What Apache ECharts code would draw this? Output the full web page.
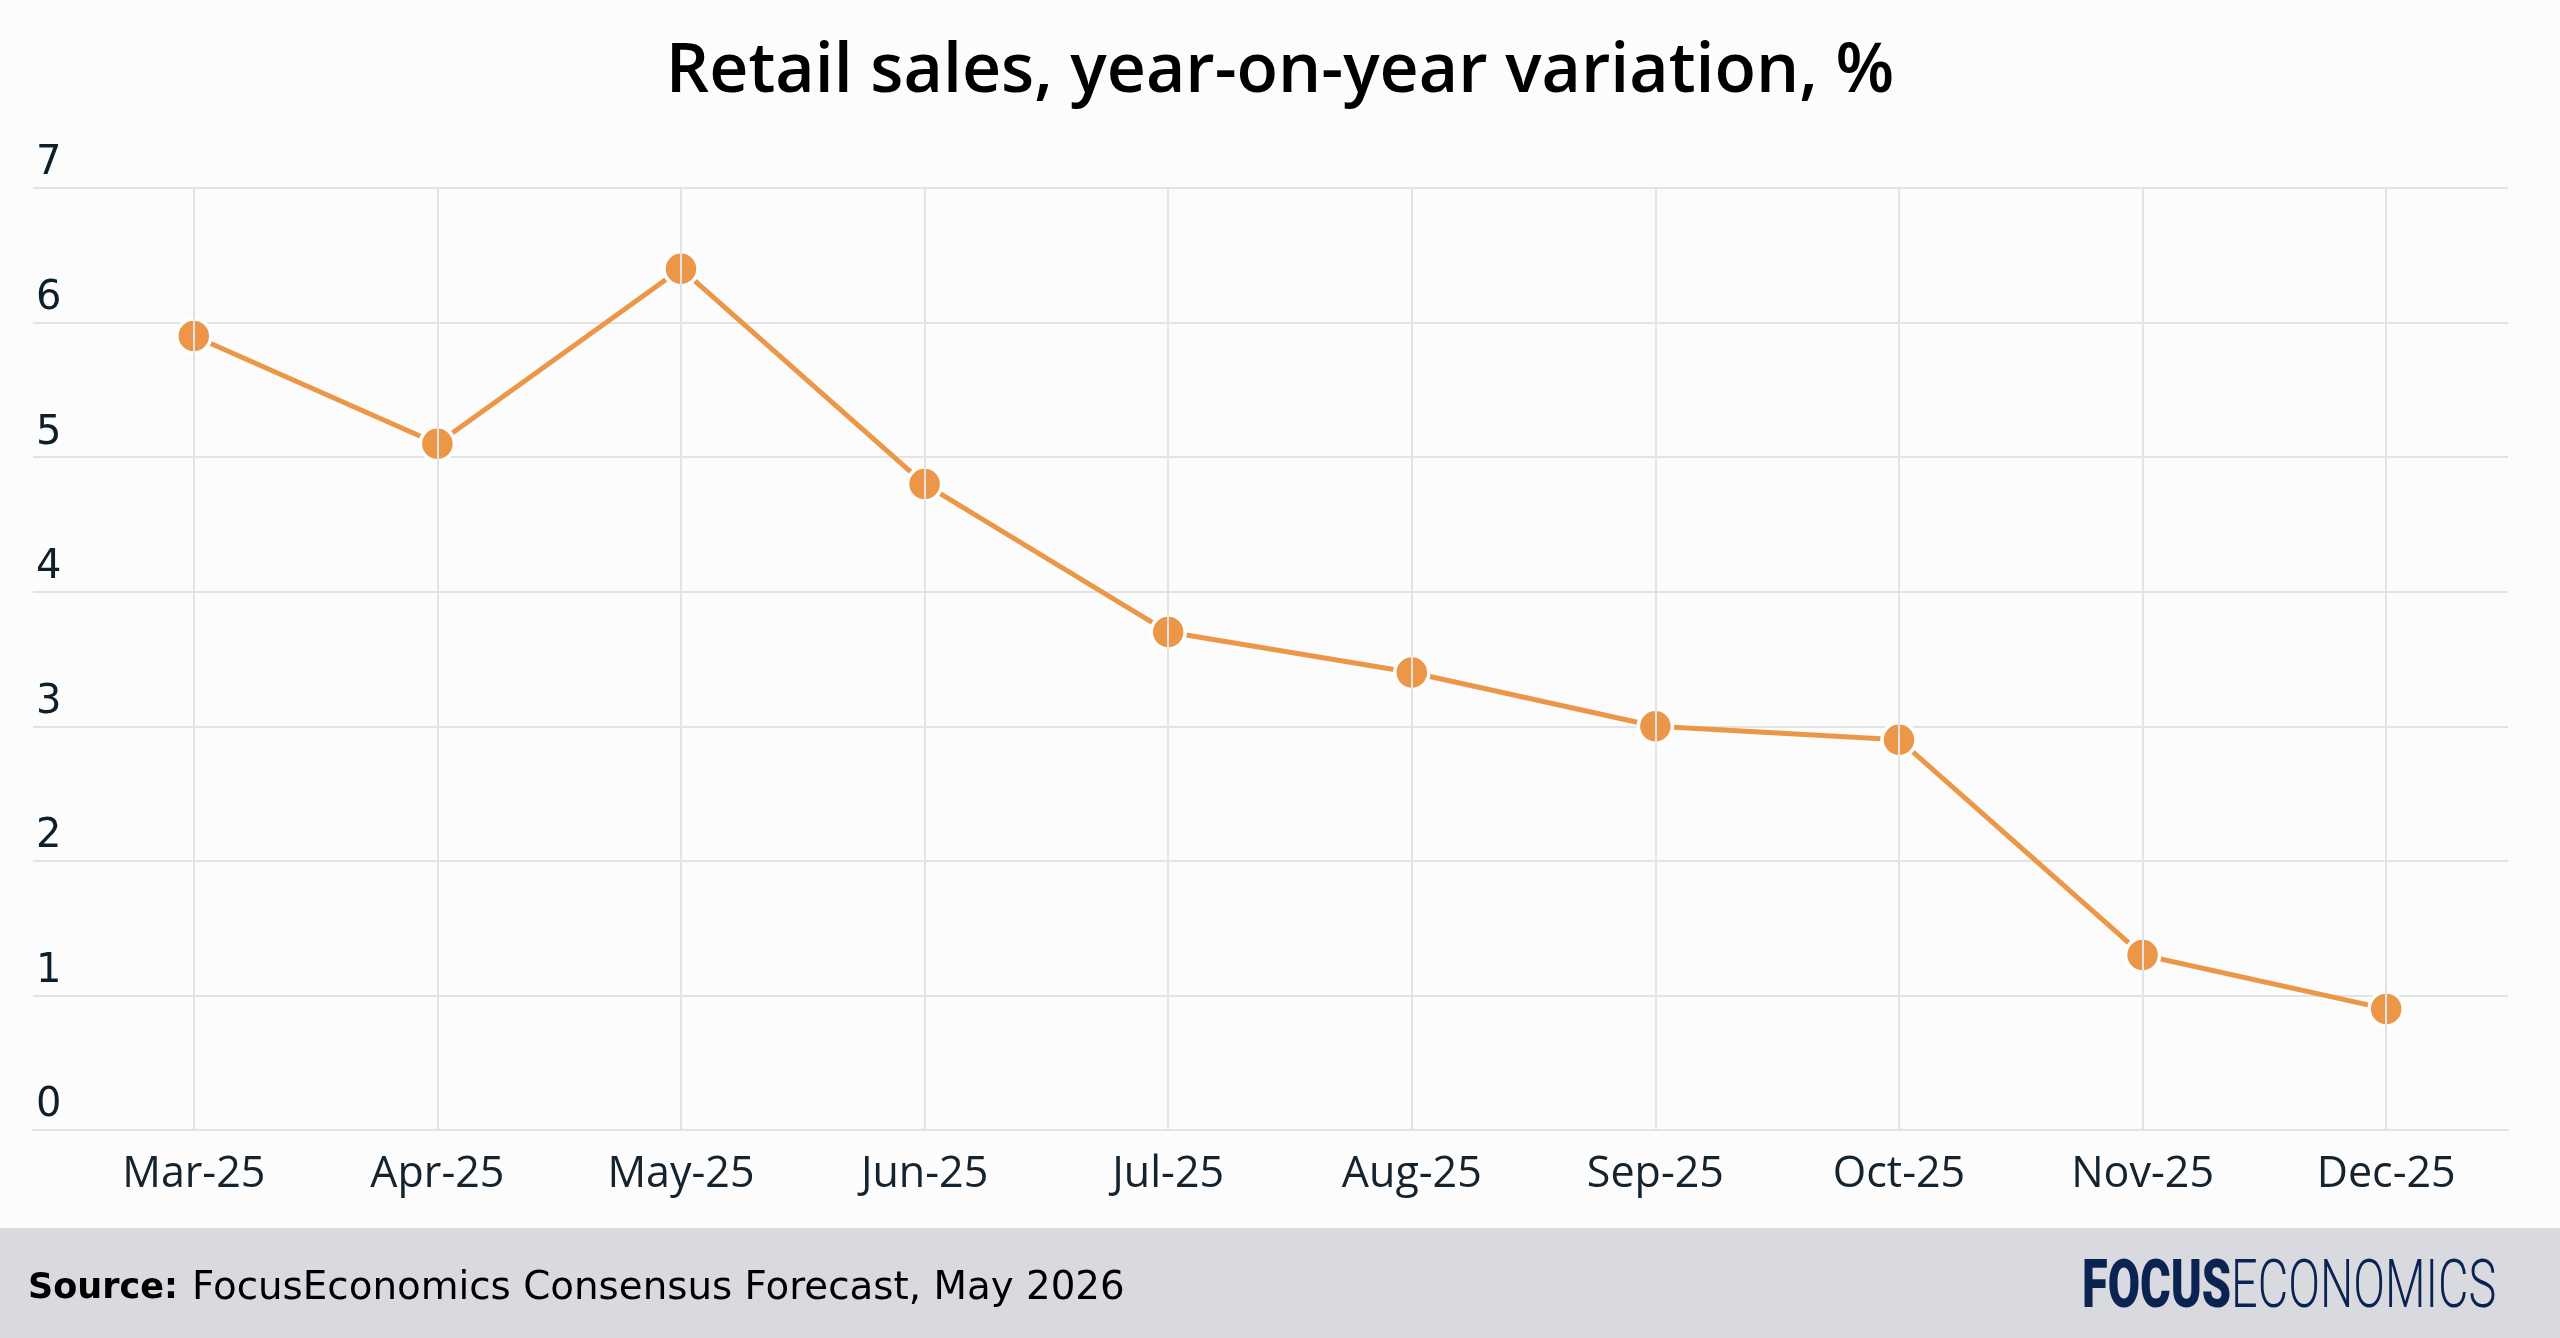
<!DOCTYPE html>
<html>
<head>
<meta charset="utf-8">
<script src="https://cdn.jsdelivr.net/npm/echarts@6/dist/echarts.min.js"></script>
<style>
html,body{margin:0;padding:0;background:#fcfcfc;}
#c{width:2560px;height:1338px;}
</style>
</head>
<body>
<div id="c"></div>
<script>
const categories = ['Mar-25','Apr-25','May-25','Jun-25','Jul-25','Aug-25','Sep-25','Oct-25','Nov-25','Dec-25'];
const retailSales = [5.9, 5.1, 6.4, 4.8, 3.7, 3.4, 3.0, 2.9, 1.3, 0.9];
const yTicks = [0, 1, 2, 3, 4, 5, 6, 7];

const idx = categories.map((c, i) => i);
const chart = echarts.init(document.getElementById('c'), null, {renderer: 'canvas'});
const option = {
  backgroundColor: '#fcfcfc',
  animation: false,
  title: {
    text: 'Retail sales, year-on-year variation, %',
    left: 'center',
    top: 26,
    textStyle: {fontFamily: 'Open Sans', fontWeight: 600, fontSize: 68, color: '#000000', lineHeight: 84}
  },
  grid: {left: 33, right: 52, top: 188, bottom: 208, containLabel: false},
  xAxis: {
    type: 'value',
    min: -0.66,
    max: 9.5,
    splitLine: {show: false},
    axisLine: {show: true, lineStyle: {color: '#e3e3e3', width: 2}},
    axisTick: {show: false},
    axisLabel: {
      customValues: idx,
      formatter: v => categories[Math.round(v)] || '',
      fontFamily: 'Open Sans', fontSize: 43, color: '#14232e', margin: 23
    }
  },
  yAxis: {
    type: 'value',
    min: 0, max: 7, interval: 1,
    axisLine: {show: false},
    axisTick: {show: false},
    splitLine: {lineStyle: {color: '#e3e3e3', width: 2}},
    axisLabel: {
      inside: true,
      align: 'left',
      verticalAlign: 'bottom',
      margin: 3,
      padding: [0, 0, 4, 0],
      fontFamily: 'DejaVu Sans', fontSize: 40, color: '#0d1f2b',
      formatter: v => yTicks.includes(v) ? String(v) : ''
    }
  },
  series: [
    {
      type: 'line',
      data: [],
      z: 1,
      silent: true,
      markLine: {
        silent: true,
        symbol: ['none', 'none'],
        label: {show: false},
        lineStyle: {color: '#e3e3e3', width: 2, type: 'solid'},
        emphasis: {disabled: true},
        data: idx.map(i => ({xAxis: i}))
      }
    },
    {
      type: 'line',
      z: 3,
      data: retailSales.map((v, i) => [i, v]),
      symbol: 'circle',
      symbolSize: 34,
      lineStyle: {color: '#ec9748', width: 5},
      itemStyle: {color: '#ec9748', borderColor: '#ffffff', borderWidth: 3.5},
      emphasis: {disabled: true}
    }
  ],
  graphic: [
    {type: 'rect', left: 0, top: 1228, shape: {width: 2560, height: 110}, style: {fill: '#d9dadf'}, z: -1},
    {type: 'text', left: 28, top: 1271, style: {text: 'Source:', font: '700 35px "DejaVu Sans"', fill: '#000000'}},
    {type: 'text', left: 192, top: 1269, style: {text: 'FocusEconomics Consensus Forecast, May 2026', font: '400 38.8px "DejaVu Sans"', fill: '#000000'}},
    {type: 'group', x: 2082, y: 1290, scaleX: 0.71, children: [
      {type: 'text', x: 0, y: 0, style: {text: 'FOCUS', font: '900 66px Roboto', fill: '#0b2350', verticalAlign: 'middle'}},
      {type: 'text', x: 210, y: 0, style: {text: 'ECONOMICS', font: '300 66px Roboto', fill: '#0b2350', verticalAlign: 'middle'}}
    ]}
  ]
};
chart.setOption(option);
</script>
</body>
</html>
